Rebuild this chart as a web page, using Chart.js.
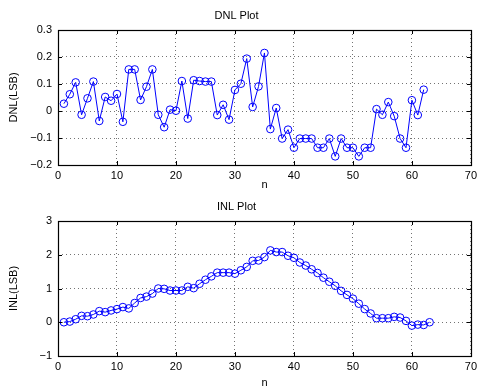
<!DOCTYPE html>
<html>
<head>
<meta charset="utf-8">
<script src="https://cdn.jsdelivr.net/npm/chart.js@4/dist/chart.umd.min.js"></script>
<style>
  html, body { margin: 0; padding: 0; background: #fff; }
  #wrap { position: relative; width: 481px; height: 387px; }
  .pane { position: absolute; left: 0; width: 481px; }
</style>
</head>
<body>
<div id="wrap">
  <div class="pane" style="top:0;height:193px"><canvas id="dnlChart" width="481" height="193"></canvas></div>
  <div class="pane" style="top:193px;height:194px"><canvas id="inlChart" width="481" height="194"></canvas></div>
</div>
<script>
// DNL values, n = 1..62
const dnlValues = [
  0.027, 0.062, 0.106, -0.014, 0.047, 0.109, -0.037, 0.052, 0.038, 0.063,
  -0.040, 0.154, 0.154, 0.041, 0.090, 0.154, -0.014, -0.060, 0.005, 0.001,
  0.111, -0.028, 0.114, 0.111, 0.109, 0.109, -0.015, 0.023, -0.032, 0.078,
  0.101, 0.194, 0.015, 0.091, 0.215, -0.067, 0.011, -0.102, -0.069, -0.136,
  -0.102, -0.102, -0.102, -0.136, -0.136, -0.102, -0.168, -0.102, -0.136, -0.136,
  -0.168, -0.136, -0.136, 0.007, -0.014, 0.033, -0.019, -0.102, -0.136, 0.040,
  -0.015, 0.079
];

// INL values, n = 1..63
const inlValues = [
  0.00, 0.02, 0.09, 0.19, 0.18, 0.23, 0.33, 0.30, 0.35, 0.39,
  0.45, 0.41, 0.57, 0.72, 0.76, 0.85, 1.00, 0.99, 0.94, 0.94,
  0.94, 1.05, 1.01, 1.14, 1.26, 1.36, 1.47, 1.47, 1.47, 1.44,
  1.54, 1.64, 1.82, 1.83, 1.93, 2.13, 2.08, 2.08, 1.97, 1.91,
  1.77, 1.68, 1.57, 1.46, 1.32, 1.20, 1.08, 0.93, 0.81, 0.70,
  0.55, 0.39, 0.26, 0.12, 0.12, 0.12, 0.16, 0.14, 0.04, -0.10,
  -0.07, -0.08, 0.00
];

const xTicks = [0, 10, 20, 30, 40, 50, 60, 70];
const dnlTicks = [-0.2, -0.1, 0, 0.1, 0.2, 0.3];
const inlTicks = [-1, 0, 1, 2, 3];

const FONT = "'Liberation Sans', Arial, Helvetica, sans-serif";
Chart.defaults.font.family = FONT;
Chart.defaults.font.size = 11;
Chart.defaults.color = '#000';

// MATLAB style box + inward tick marks
const boxPlugin = {
  id: 'box',
  afterDraw(chart) {
    const { ctx, chartArea: a, scales } = chart;
    ctx.save();
    ctx.strokeStyle = '#000';
    ctx.lineWidth = 1;
    ctx.beginPath();
    scales.x.ticks.forEach(t => {
      const px = Math.round(scales.x.getPixelForValue(t.value)) + 0.5;
      ctx.moveTo(px, a.bottom); ctx.lineTo(px, a.bottom - 4);
      ctx.moveTo(px, a.top); ctx.lineTo(px, a.top + 4);
    });
    scales.y.ticks.forEach(t => {
      const py = Math.round(scales.y.getPixelForValue(t.value)) + 0.5;
      ctx.moveTo(a.left, py); ctx.lineTo(a.left + 4, py);
      ctx.moveTo(a.right, py); ctx.lineTo(a.right - 4, py);
    });
    ctx.stroke();
    ctx.lineWidth = 1.2;
    ctx.strokeRect(Math.round(a.left) + 0.5, Math.round(a.top) + 0.5,
                   Math.round(a.right - a.left), Math.round(a.bottom - a.top));
    ctx.restore();
  }
};

function fmtTick(v) {
  const s = String(Math.round(v * 10) / 10);
  return v < 0 ? '\u2212' + s.slice(1) : s;
}

function makeChart(id, values, yTicks, opts) {
  const ctx = document.getElementById(id).getContext('2d');
  return new Chart(ctx, {
    type: 'line',
    data: {
      datasets: [{
        data: values.map((v, i) => ({ x: i + 1, y: v })),
        borderColor: '#0000ff',
        borderWidth: 1,
        pointRadius: 3.8,
        pointBorderWidth: 1,
        pointBorderColor: '#0000ff',
        pointBackgroundColor: 'rgba(0,0,0,0)',
        tension: 0,
        fill: false,
      }]
    },
    options: {
      responsive: false,
      animation: false,
      layout: { padding: { left: 0, right: 8, top: 0, bottom: 0 } },
      plugins: {
        legend: { display: false },
        tooltip: { enabled: false },
        title: {
          display: true,
          text: opts.title,
          font: { size: 11, weight: 'normal' },
          color: '#000',
          padding: { top: opts.titleTop, bottom: opts.titleBottom },
        },
      },
      scales: {
        x: {
          type: 'linear',
          min: 0, max: 70,
          afterBuildTicks: s => { s.ticks = xTicks.map(v => ({ value: v })); },
          ticks: { padding: 4, maxRotation: 0, color: '#000' },
          grid: { color: 'rgba(0,0,0,0.55)', drawTicks: false },
          border: { display: false, dash: [1, 3] },
          title: {
            display: true, text: 'n', color: '#000',
            font: { size: 11, lineHeight: 1 },
            padding: { top: 0, bottom: opts.nPad }
          },
          afterFit: s => { s.height = opts.xHeight; },
        },
        y: {
          type: 'linear',
          min: yTicks[0], max: yTicks[yTicks.length - 1],
          afterBuildTicks: s => { s.ticks = yTicks.map(v => ({ value: v })); },
          ticks: { padding: 6, color: '#000', callback: v => fmtTick(v) },
          grid: { color: 'rgba(0,0,0,0.55)', drawTicks: false },
          border: { display: false, dash: [1, 3] },
          title: { display: true, text: opts.yLabel, padding: { top: 7, bottom: 0 }, color: '#000' },
          afterFit: s => { s.width = 58; },
        }
      }
    },
    plugins: [boxPlugin]
  });
}

makeChart('dnlChart', dnlValues, dnlTicks, {
  title: 'DNL Plot', yLabel: 'DNL(LSB)', titleTop: 9.5, titleBottom: 7.3, xHeight: 28, nPad: 2.5
});
makeChart('inlChart', inlValues, inlTicks, {
  title: 'INL Plot', yLabel: 'INL(LSB)', titleTop: 7.7, titleBottom: 7.1, xHeight: 31, nPad: -1.5
});
</script>
</body>
</html>
